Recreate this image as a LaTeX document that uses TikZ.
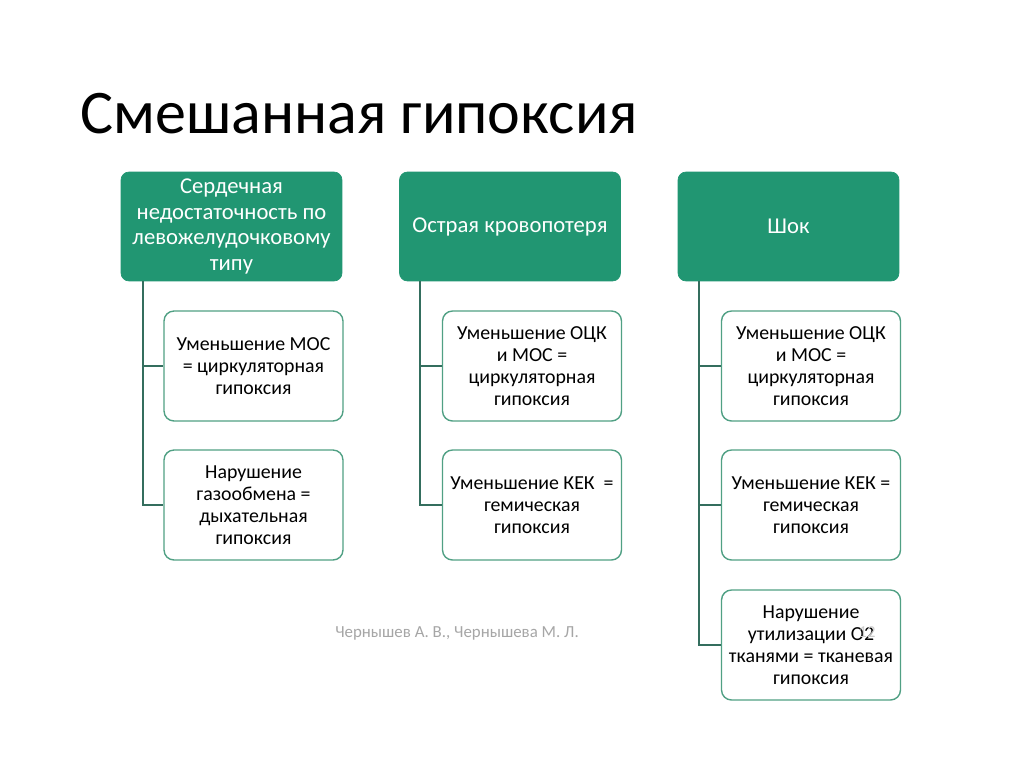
\documentclass[tikz,border=0pt]{standalone}
\usepackage{fontspec}
\setmainfont{Carlito}
\usetikzlibrary{positioning, calc}
\definecolor{jade}{RGB}{33, 150, 114}
\definecolor{jadeline}{RGB}{80, 160, 132}
\definecolor{stemgray}{RGB}{52, 110, 94}

\tikzset{
    headbox/.style={fill=jade, draw=jade, rounded corners=0.16cm, text=white,
        minimum width=4.42cm, minimum height=2.18cm, align=center,
        font=\fontsize{12.9}{14.5}\selectfont},
    leafbox/.style={draw=jadeline, line width=0.8pt, rounded corners=0.2cm, fill=white,
        minimum width=3.58cm, minimum height=2.2cm, align=center,
        font=\fontsize{11.3}{12.6}\selectfont},
    stem/.style={draw=stemgray, line width=1pt}
}

\begin{document}
\begin{tikzpicture}[x=0.02cm, y=-0.02cm]
\useasboundingbox[fill=white] (0,0) rectangle (1024,767);
\node[anchor=base west, inner sep=0pt, font=\fontsize{35.3}{42}\selectfont] (title) at (80,133) {Смешанная гипоксия};

% headers
\node[headbox] (h1) at (231.5,226.5) {Сердечная\\недостаточность по\\левожелудочковому\\типу};
\node[headbox] (h2) at (510,226.5) {Острая кровопотеря};
\node[headbox] (h3) at (788.5,226.5) {Шок};

% first column
\node[leafbox] (a1) at (253.5,366) {Уменьшение МОС\\= циркуляторная\\гипоксия};
\node[leafbox] (a2) at (253.5,505) {Нарушение\\газообмена =\\дыхательная\\гипоксия};
% second column
\node[leafbox] (b1) at (532,366) {Уменьшение ОЦК\\и МОС =\\циркуляторная\\гипоксия};
\node[leafbox] (b2) at (532,505) {Уменьшение КЕК \ =\\гемическая\\гипоксия};
% third column
\node[leafbox] (c1) at (811,366) {Уменьшение ОЦК\\и МОС =\\циркуляторная\\гипоксия};
\node[leafbox] (c2) at (811,505) {Уменьшение КЕК =\\гемическая\\гипоксия};
\node[leafbox] (c3) at (811,645) {Нарушение\\утилизации О2\\тканями = тканевая\\гипоксия};

% stems
\draw[stem] (h1.south west) ++(22,0) |- (a1.west);
\draw[stem] (h1.south west) ++(22,0) |- (a2.west);
\draw[stem] (h2.south west) ++(21,0) |- (b1.west);
\draw[stem] (h2.south west) ++(21,0) |- (b2.west);
\draw[stem] (h3.south west) ++(21,0) |- (c1.west);
\draw[stem] (h3.south west) ++(21,0) |- (c2.west);
\draw[stem] (h3.south west) ++(21,0) |- (c3.west);

\node[text=gray!70, font=\fontsize{9.6}{11}\selectfont] (authors) at (457,633) {Чернышев А. В., Чернышева М. Л.};
\node[text=gray!40, font=\fontsize{9.5}{11}\selectfont] (slideno) at (867,632) {12};
\end{tikzpicture}
\end{document}
